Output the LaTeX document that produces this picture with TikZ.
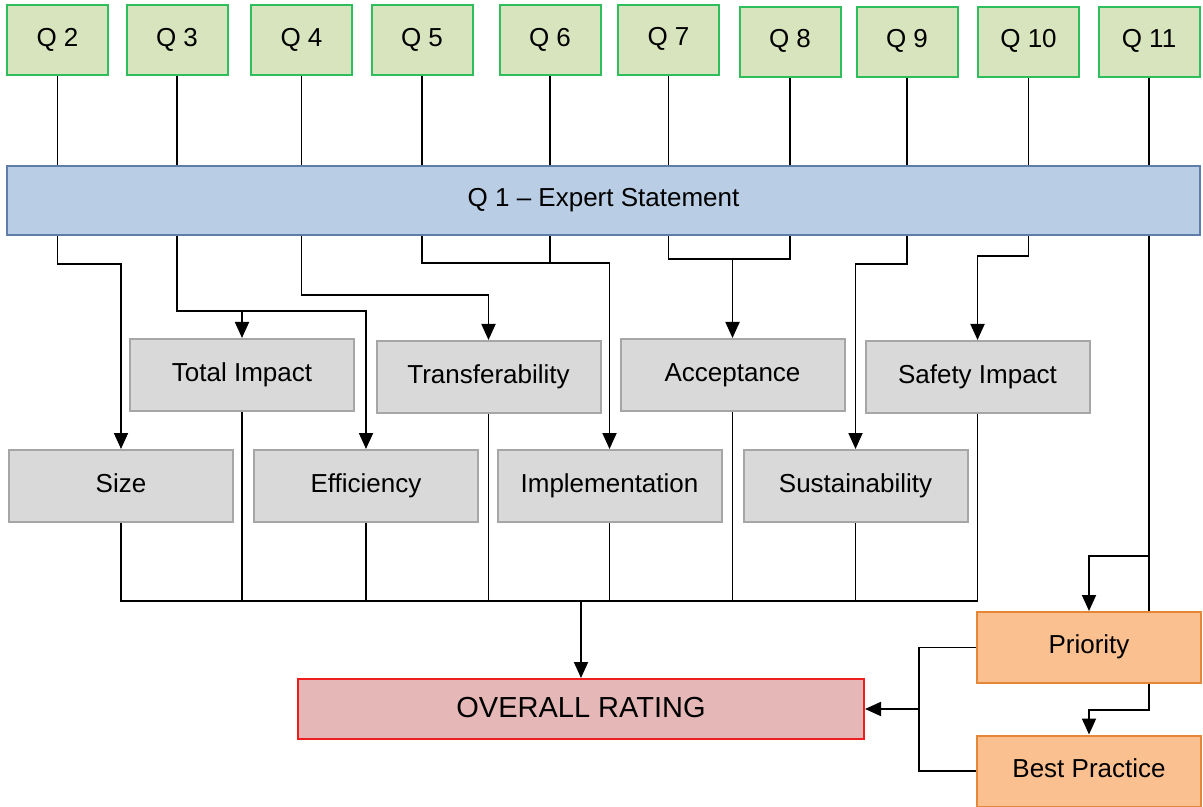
\documentclass[tikz,border=0pt]{standalone}
\usepackage{fontspec}
\setmainfont{Liberation Sans}
\usetikzlibrary{arrows.meta}

\definecolor{qfill}{RGB}{215,228,189}
\definecolor{qline}{RGB}{46,190,92}
\definecolor{expfill}{RGB}{185,205,228}
\definecolor{expline}{RGB}{95,125,170}
\definecolor{catfill}{RGB}{217,217,217}
\definecolor{catline}{RGB}{166,166,166}
\definecolor{ratefill}{RGB}{229,184,183}
\definecolor{rateline}{RGB}{238,30,30}
\definecolor{prfill}{RGB}{250,192,144}
\definecolor{prline}{RGB}{230,135,55}

\begin{document}
\begin{tikzpicture}[
        x=0.5pt, y=-0.5pt,
        line width=0.9pt,
        arr/.style={-{Triangle[length=8pt,width=7pt]}}]

        \tikzstyle{every node}=[font=\fontsize{13}{15}\selectfont, rectangle, inner sep=0pt, text height=9.5pt, text depth=3.5pt]
        \tikzstyle{qbox}=[draw=qline, fill=qfill, line width=1pt, minimum width=50.5pt, minimum height=35pt]
        \tikzstyle{catbox}=[draw=catline, fill=catfill, line width=1pt, minimum width=112pt, minimum height=36pt]
        \tikzstyle{prbox}=[draw=prline, fill=prfill, line width=1pt, minimum width=112pt, minimum height=35.5pt]

        \useasboundingbox (0,0) rectangle (1203,807);

        % questions
        \node[qbox] (q2) at (57.5,40.5) {Q 2};
        \node[qbox] (q3) at (177,40.5) {Q 3};
        \node[qbox] (q4) at (301.5,40.5) {Q 4};
        \node[qbox] (q5) at (422,40.5) {Q 5};
        \node[qbox] (q6) at (550,40.5) {Q 6};
        \node[qbox] (q7) at (668.5,40) {Q 7};
        \node[qbox] (q8) at (790,42) {Q 8};
        \node[qbox] (q9) at (907,42) {Q 9};
        \node[qbox] (q10) at (1028.5,42) {Q 10};
        \node[qbox] (q11) at (1149,42) {Q 11};

        \node[draw=expline, fill=expfill, line width=1pt, minimum width=596.5pt, minimum height=34.5pt]
            (expert) at (603.5,200.5) {Q 1 -- Expert Statement};

        % criteria
        \node[catbox] (total) at (242,375) {Total Impact};
        \node[catbox] (transfer) at (488.5,377) {Transferability};
        \node[catbox] (accept) at (732.5,375) {Acceptance};
        \node[catbox] (safety) at (977.5,377) {Safety Impact};
        \node[catbox] (size) at (121,486) {Size};
        \node[catbox] (effic) at (366,486) {Efficiency};
        \node[catbox] (implem) at (609.5,486) {Implementation};
        \node[catbox] (sustain) at (855.5,486) {Sustainability};

        \node[draw=rateline, fill=ratefill, line width=1pt, minimum width=283pt, minimum height=30pt,
            font=\fontsize{14.5}{17}\selectfont, text height=10.5pt, text depth=2pt] (overall) at (581,709) {OVERALL RATING};
        \node[prbox] (priority) at (1089,647.5) {Priority};
        \node[prbox] (best) at (1089,771) {Best Practice};

        % questions into expert statement
        \draw (q2.south) -- (q2.south |- expert.north);
        \draw (q3.south) -- (q3.south |- expert.north);
        \draw (q4.south) -- (q4.south |- expert.north);
        \draw (q5.south) -- (q5.south |- expert.north);
        \draw (q6.south) -- (q6.south |- expert.north);
        \draw (q7.south) -- (q7.south |- expert.north);
        \draw (q8.south) -- (q8.south |- expert.north);
        \draw (q9.south) -- (q9.south |- expert.north);
        \draw (q10.south) -- (q10.south |- expert.north);
        \draw (q11.south) -- (q11.south |- expert.north);

        % expert statement into criteria
        \draw[arr] (q2.south |- expert.south) -- ++(0,28) -| (size.north);
        \draw[arr] (q3.south |- expert.south) -- ++(0,75) coordinate (b3) -| (effic.north);
        \draw[arr] (b3 -| total.north) -- (total.north);
        \draw[arr] (q4.south |- expert.south) -- ++(0,59) -| (transfer.north);
        \draw[arr] (q5.south |- expert.south) -- ++(0,27) coordinate (b5) -| (implem.north);
        \draw (q6.south |- expert.south) -- (q6.south |- b5);
        \draw (q7.south |- expert.south) -- ++(0,23) coordinate (b7) -| (q8.south |- expert.south);
        \draw[arr] (b7 -| accept.north) -- (accept.north);
        \draw[arr] (q9.south |- expert.south) -- ++(0,28) -| (sustain.north);
        \draw[arr] (q10.south |- expert.south) -- ++(0,20) -| (safety.north);
        \draw (q11.south |- expert.south) -- ++(0,320) coordinate (b11) -- (q11.south |- priority.north);
        \draw[arr] (b11) -| (priority.north);
        \draw[arr] (q11.south |- priority.south) -- ++(0,26) -| (best.north);

        % criteria into overall rating
        \draw (size.south) -- ++(0,78) coordinate (bus) -| (safety.south);
        \draw (total.south) -- (total.south |- bus);
        \draw (effic.south) -- (effic.south |- bus);
        \draw (transfer.south) -- (transfer.south |- bus);
        \draw (implem.south) -- (implem.south |- bus);
        \draw (accept.south) -- (accept.south |- bus);
        \draw (sustain.south) -- (sustain.south |- bus);
        \draw[arr] (overall.north |- bus) -- (overall.north);
        \draw (priority.west) -- ++(-57,0) coordinate (m) |- (best.west);
        \draw[arr] (m |- overall.east) -- (overall.east);
    \end{tikzpicture}
\end{document}
